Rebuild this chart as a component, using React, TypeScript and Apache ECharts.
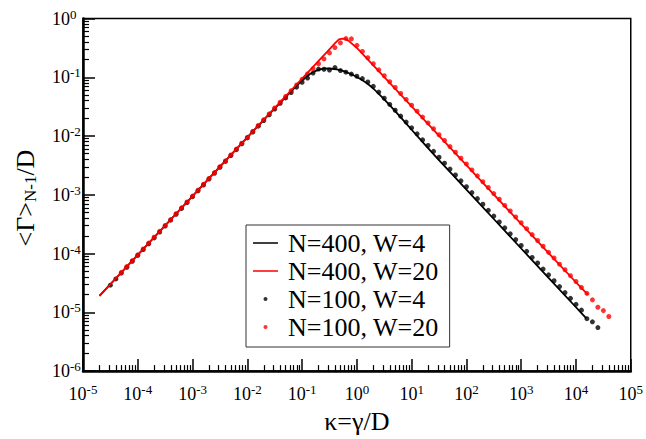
import React, { useEffect, useRef } from "react";
import * as echarts from "echarts";

const SERIF = "'Liberation Serif', 'DejaVu Serif', serif";

const xMajorTicks = [1e-5, 1e-4, 1e-3, 1e-2, 1e-1, 1, 1e1, 1e2, 1e3, 1e4, 1e5];
const yMajorTicks = [1e-6, 1e-5, 1e-4, 1e-3, 1e-2, 1e-1, 1];
const minorMultipliers = [2, 3, 4, 5, 6, 7, 8, 9];

const legendNames = ["N=400, W=4", "N=400, W=20", "N=100, W=4", "N=100, W=20"];

// N=400, W=4 (black line)
const lineBlackX = [2e-5, 1e-4, 1e-3, 1e-2, 0.03, 0.06, 0.1, 0.13, 0.16, 0.2, 0.25, 0.3, 0.4, 0.5, 0.7, 1, 1.5, 2, 3, 5, 10, 30, 100, 1000, 1e4, 1.55e4];
const lineBlackY = [1.9e-5, 9.5e-5, 9.5e-4, 9.5e-3, 0.028, 0.055, 0.088, 0.108, 0.123, 0.134, 0.14, 0.141, 0.138, 0.132, 0.118, 0.101, 0.08, 0.064, 0.044, 0.0265, 0.0128, 4.1e-3, 1.23e-3, 1.22e-4, 1.22e-5, 7.9e-6];

// N=400, W=20 (red line)
const lineRedX = [2e-5, 1e-4, 1e-3, 1e-2, 0.1, 0.2, 0.3, 0.4, 0.47, 0.55, 0.62, 0.7, 1, 2, 10, 100, 1000, 1e4, 1.65e4];
const lineRedY = [1.9e-5, 9.5e-5, 9.5e-4, 9.5e-3, 0.095, 0.19, 0.285, 0.38, 0.44, 0.455, 0.45, 0.42, 0.315, 0.16, 0.032, 3.2e-3, 3.2e-4, 3.25e-5, 2.0e-5];

// N=100, W=4 (black dots): kappa exponents and values
const dotsBlackExp = [
  -4.5, -4.4, -4.3, -4.2, -4.1, -4.0, -3.9, -3.8, -3.7, -3.6,
  -3.5, -3.4, -3.3, -3.2, -3.1, -3.0, -2.9, -2.8, -2.7, -2.6,
  -2.5, -2.4, -2.3, -2.2, -2.1, -2.0, -1.9, -1.8, -1.7, -1.6,
  -1.5, -1.4, -1.3, -1.2, -1.1, -1.0, -0.9, -0.8, -0.7, -0.6,
  -0.5, -0.4, -0.3, -0.2, -0.1, 0.0, 0.1, 0.2, 0.3, 0.4,
  0.5, 0.6, 0.7, 0.8, 0.9, 1.0, 1.1, 1.2, 1.3, 1.4,
  1.5, 1.6, 1.7, 1.8, 1.9, 2.0, 2.1, 2.2, 2.3, 2.4,
  2.5, 2.6, 2.7, 2.8, 2.9, 3.0, 3.1, 3.2, 3.3, 3.4,
  3.5, 3.6, 3.7, 3.8, 3.9, 4.0, 4.1, 4.2, 4.3, 4.4,
];
const dotsBlackY = [
  2.9e-5, 3.7e-5, 4.65e-5, 5.85e-5, 7.4e-5, 9.3e-5, 1.17e-4, 1.47e-4, 1.85e-4, 2.33e-4,
  2.94e-4, 3.7e-4, 4.66e-4, 5.87e-4, 7.39e-4, 9.3e-4, 1.17e-3, 1.47e-3, 1.85e-3, 2.33e-3,
  2.94e-3, 3.7e-3, 4.66e-3, 5.87e-3, 7.39e-3, 9.3e-3, 1.17e-2, 1.47e-2, 1.84e-2, 2.3e-2,
  2.88e-2, 3.6e-2, 4.45e-2, 5.5e-2, 6.8e-2, 8.2e-2, 0.097, 0.118, 0.138, 0.137,
  0.133, 0.146, 0.13, 0.122, 0.113, 0.104, 0.095, 0.083, 0.07, 0.056,
  0.044, 0.0345, 0.0275, 0.0218, 0.0173, 0.0138, 0.0109, 8.6e-3, 6.9e-3, 5.5e-3,
  4.35e-3, 3.45e-3, 2.74e-3, 2.17e-3, 1.73e-3, 1.37e-3, 1.09e-3, 8.6e-4, 6.9e-4, 5.45e-4,
  4.35e-4, 3.45e-4, 2.74e-4, 2.17e-4, 1.73e-4, 1.37e-4, 1.09e-4, 8.6e-5, 6.9e-5, 5.45e-5,
  4.35e-5, 3.45e-5, 2.74e-5, 2.17e-5, 1.73e-5, 1.37e-5, 1.09e-5, 7.8e-6, 6.9e-6, 5.5e-6,
];

// N=100, W=20 (red dots)
const dotsRedExp = [
  -4.3, -4.2, -4.1, -4.0, -3.9, -3.8, -3.7, -3.6, -3.5, -3.4,
  -3.3, -3.2, -3.1, -3.0, -2.9, -2.8, -2.7, -2.6, -2.5, -2.4,
  -2.3, -2.2, -2.1, -2.0, -1.9, -1.8, -1.7, -1.6, -1.5, -1.4,
  -1.3, -1.2, -1.1, -1.0, -0.9, -0.8, -0.7, -0.6, -0.5, -0.4,
  -0.3, -0.2, -0.1, 0.0, 0.1, 0.2, 0.3, 0.4, 0.5, 0.6,
  0.7, 0.8, 0.9, 1.0, 1.1, 1.2, 1.3, 1.4, 1.5, 1.6,
  1.7, 1.8, 1.9, 2.0, 2.1, 2.2, 2.3, 2.4, 2.5, 2.6,
  2.7, 2.8, 2.9, 3.0, 3.1, 3.2, 3.3, 3.4, 3.5, 3.6,
  3.7, 3.8, 3.9, 4.0, 4.1, 4.2, 4.3, 4.4, 4.5, 4.6,
];
const dotsRedY = [
  4.76e-5, 6.0e-5, 7.55e-5, 9.5e-5, 1.2e-4, 1.51e-4, 1.9e-4, 2.39e-4, 3.0e-4, 3.78e-4,
  4.76e-4, 6.0e-4, 7.55e-4, 9.5e-4, 1.2e-3, 1.51e-3, 1.9e-3, 2.39e-3, 3.0e-3, 3.78e-3,
  4.76e-3, 6.0e-3, 7.55e-3, 9.5e-3, 1.2e-2, 1.51e-2, 1.9e-2, 2.39e-2, 3.0e-2, 3.76e-2,
  4.7e-2, 5.9e-2, 7.4e-2, 9.2e-2, 0.114, 0.14, 0.17, 0.205, 0.26, 0.32,
  0.385, 0.455, 0.45, 0.35, 0.275, 0.215, 0.17, 0.134, 0.106, 0.084,
  0.067, 0.053, 0.042, 0.0335, 0.0265, 0.021, 0.0167, 0.0133, 0.0105, 8.4e-3,
  6.6e-3, 5.3e-3, 4.2e-3, 3.35e-3, 2.65e-3, 2.1e-3, 1.67e-3, 1.33e-3, 1.05e-3, 8.4e-4,
  6.6e-4, 5.3e-4, 4.2e-4, 3.35e-4, 2.65e-4, 2.1e-4, 1.67e-4, 1.33e-4, 1.05e-4, 8.4e-5,
  6.6e-5, 5.3e-5, 4.2e-5, 3.35e-5, 2.65e-5, 2.1e-5, 1.63e-5, 1.22e-5, 1.07e-5, 8.5e-6,
];

// thin horizontal bar inside a 25x4 box (tiny corner specks keep the box size)
const LINE_ICON = "path://M0,0L0.02,0L0.02,0.02Z M0,1.3H25V2.7H0Z M24.98,4L25,4L25,3.98Z";

function minorTicksFor(majors: number[]): number[] {
  const out: number[] = [];
  for (let i = 0; i < majors.length - 1; i++) {
    for (const m of minorMultipliers) out.push(majors[i] * m);
  }
  return out;
}

function pow10Label(v: number): string {
  const e = Math.round(Math.log10(v));
  return `{b|10}{s|${e}}`;
}

const labelRich = {
  b: { fontFamily: SERIF, fontSize: 18, color: "#000" },
  s: { fontFamily: SERIF, fontSize: 13, color: "#000", padding: [0, 0, 9, 0] },
};

export default function App() {
  const ref = useRef<HTMLDivElement>(null);

  useEffect(() => {
    if (!ref.current) return;
    const chart = echarts.init(ref.current, undefined, { renderer: "svg" });

    const blackLine = lineBlackX.map((x, i) => [x, lineBlackY[i]]);
    const redLine = lineRedX.map((x, i) => [x, lineRedY[i]]);
    const blackDots = dotsBlackExp.map((e, i) => [Math.pow(10, e), dotsBlackY[i]]);
    const redDots = dotsRedExp.map((e, i) => [Math.pow(10, e), dotsRedY[i]]);

    const xMinor = minorTicksFor(xMajorTicks);
    const yMinor = minorTicksFor(yMajorTicks);

    const option: any = {
      animation: false,
      backgroundColor: "#fff",
      grid: {
        left: 83,
        right: 13,
        top: 18.5,
        bottom: 60.5,
        show: true,
        borderColor: "#000",
        borderWidth: 1.5,
        containLabel: false,
      },
      xAxis: [
        {
          type: "log",
          logBase: 10,
          min: 1e-5,
          max: 1e5,
          position: "bottom",
          axisLine: { show: true, lineStyle: { color: "#000", width: 2.5 } },
          axisTick: { show: true, inside: true, length: 12, lineStyle: { color: "#000", width: 1.5 }, customValues: xMajorTicks },
          axisLabel: { show: true, margin: 12, formatter: pow10Label, rich: labelRich, customValues: xMajorTicks },
          splitLine: { show: false },
          minorTick: { show: false },
          name: "κ=γ/D",
          nameLocation: "middle",
          nameGap: 32,
          nameTextStyle: { fontFamily: SERIF, fontSize: 26, color: "#000" },
        },
        {
          type: "log",
          logBase: 10,
          min: 1e-5,
          max: 1e5,
          position: "bottom",
          axisLine: { show: false },
          axisTick: { show: true, inside: true, length: 6, lineStyle: { color: "#000", width: 1.2 }, customValues: xMinor },
          axisLabel: { show: false },
          splitLine: { show: false },
        },
      ],
      yAxis: [
        {
          type: "log",
          logBase: 10,
          min: 1e-6,
          max: 1,
          position: "left",
          axisLine: { show: true, lineStyle: { color: "#000", width: 2.5 } },
          axisTick: { show: true, inside: true, length: 12, lineStyle: { color: "#000", width: 1.5 }, customValues: yMajorTicks },
          axisLabel: { show: true, margin: 31, align: "left", formatter: pow10Label, rich: labelRich, customValues: yMajorTicks },
          splitLine: { show: false },
          minorTick: { show: false },
        },
        {
          type: "log",
          logBase: 10,
          min: 1e-6,
          max: 1,
          position: "left",
          axisLine: { show: false },
          axisTick: { show: true, inside: true, length: 6, lineStyle: { color: "#000", width: 1.2 }, customValues: yMinor },
          axisLabel: { show: false },
          splitLine: { show: false },
        },
      ],
      legend: {
        orient: "vertical",
        left: 246,
        top: 225,
        padding: [5, 11, 7, 7],
        itemGap: 2,
        itemWidth: 25,
        itemHeight: 4,
        borderColor: "#333",
        borderWidth: 1,
        backgroundColor: "#fff",
        selectedMode: false,
        textStyle: { fontFamily: SERIF, fontSize: 26, color: "#000", padding: [0, 0, 0, 5] },
        data: [
          { name: legendNames[0], icon: LINE_ICON, itemStyle: { color: "#000" } },
          { name: legendNames[1], icon: LINE_ICON, itemStyle: { color: "#ff0000" } },
          { name: legendNames[2], icon: "circle" },
          { name: legendNames[3], icon: "circle" },
        ],
      },
      graphic: [
        {
          type: "text",
          x: 25,
          y: 198,
          rotation: Math.PI / 2,
          style: {
            text: "{a|<Γ>}{s|N-1}{a|/D}",
            rich: {
              a: { fontFamily: SERIF, fontSize: 26, fill: "#000" },
              s: { fontFamily: SERIF, fontSize: 17, fill: "#000", padding: [10, 0, 0, 0] },
            },
            align: "center",
            verticalAlign: "middle",
            fill: "#000",
          },
        },
      ],
      series: [
        {
          name: legendNames[0],
          type: "line",
          data: blackLine,
          symbol: "none",
          showSymbol: false,
          smooth: 0.2,
          lineStyle: { color: "#000", width: 1.8 },
          itemStyle: { color: "#000" },
        },
        {
          name: legendNames[1],
          type: "line",
          data: redLine,
          symbol: "none",
          showSymbol: false,
          lineStyle: { color: "#ff0000", width: 1.8 },
          itemStyle: { color: "#ff0000" },
        },
        {
          name: legendNames[2],
          type: "scatter",
          data: blackDots,
          symbol: "circle",
          symbolSize: 5,
          itemStyle: { color: "#000" },
        },
        {
          name: legendNames[3],
          type: "scatter",
          data: redDots,
          symbol: "circle",
          symbolSize: 5,
          itemStyle: { color: "#ff0000" },
        },
      ],
    };

    chart.setOption(option);
    return () => chart.dispose();
  }, []);

  return (
    <div
      ref={ref}
      style={{ position: "fixed", left: 0, top: 0, width: 646, height: 439, background: "#fff" }}
    />
  );
}
